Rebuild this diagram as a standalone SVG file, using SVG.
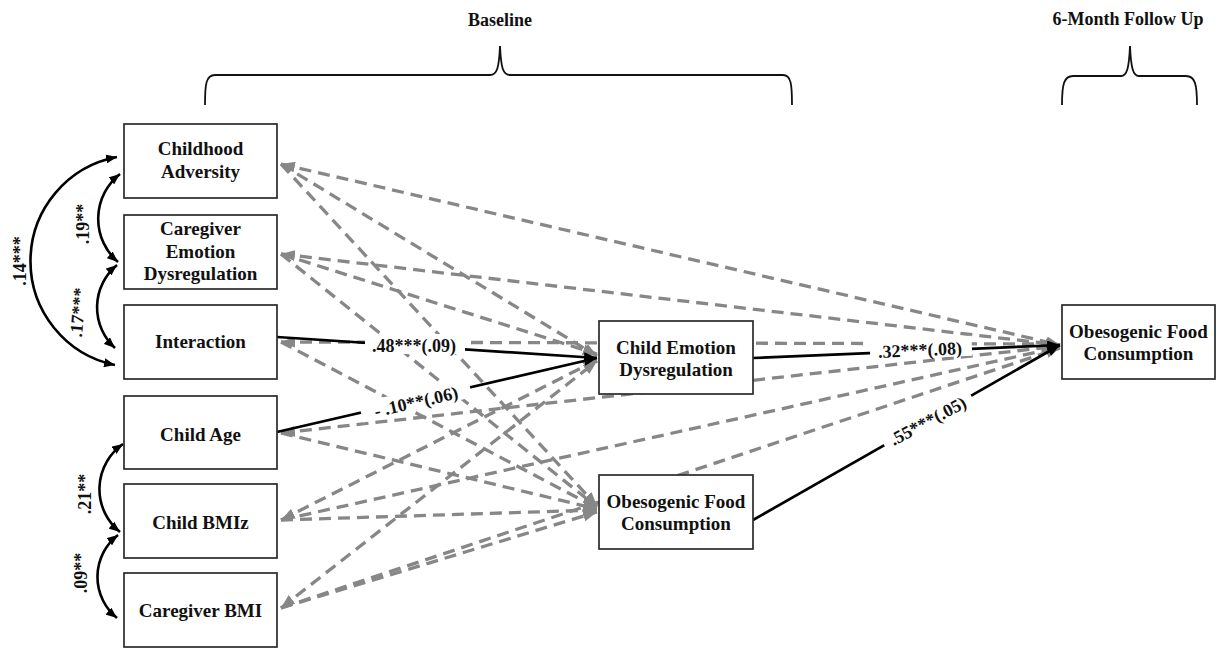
<svg xmlns="http://www.w3.org/2000/svg" width="1225" height="650" viewBox="0 0 1225 650">
<style>
text{font-family:"Liberation Serif","Times New Roman",serif;font-weight:bold;fill:#111}
.node rect{fill:#fff;stroke:#2a2a2a;stroke-width:1.7}
.node text{font-size:19px;text-anchor:middle}
.dash{fill:none;stroke:#878787;stroke-width:3.3;stroke-dasharray:12 7;marker-end:url(#ga)}
.solid{fill:none;stroke:#000;stroke-width:2.7;marker-end:url(#ab)}
.corr{fill:none;stroke:#000;stroke-width:2.6;marker-start:url(#ab2);marker-end:url(#ab2)}
.lab{font-size:18px;text-anchor:middle}
.bg{fill:#fff}
.brace{fill:none;stroke:#111;stroke-width:1.8}
.head{font-size:18px;text-anchor:middle}
</style>
<defs>
<marker id="ab" markerUnits="userSpaceOnUse" markerWidth="13" markerHeight="10" refX="13" refY="5" orient="auto-start-reverse"><path d="M0,0 L13,5 L0,10 z" fill="#000"/></marker>
<marker id="ab2" markerUnits="userSpaceOnUse" markerWidth="11" markerHeight="9" refX="11" refY="4.5" orient="auto-start-reverse"><path d="M0,0 L11,4.5 L0,9 z" fill="#000"/></marker>
<marker id="ga" markerUnits="userSpaceOnUse" markerWidth="14" markerHeight="11" refX="14" refY="5.5" orient="auto-start-reverse"><path d="M0,0 L14,5.5 L0,11 z" fill="#878787"/></marker>
</defs>

<g id="headers">
<text class="head" x="500" y="26">Baseline</text>
<path class="brace" d="M205,105 C205,84 206,75 215,75 L490,75 C497,75 499,68 500,46 C501,68 503,75 510,75 L783,75 C791,75 792,84 792,105"/>
<text class="head" x="1128" y="25">6-Month Follow Up</text>
<path class="brace" d="M1062,105 C1062,84 1064,76 1073,76 L1121,76 C1127,76 1129,68 1130,46 C1131,68 1133,76 1139,76 L1186,76 C1195,76 1197,84 1197,105"/>
</g>

<g id="connectors">
<path class="dash" style="marker-start:url(#ga)" d="M281,164 L1060,345"/>
<path class="dash" d="M281,164 L597,356"/>
<path class="dash" d="M281,164 L597,506"/>
<path class="dash" style="marker-start:url(#ga)" d="M281,254 L1060,345"/>
<path class="dash" d="M281,254 L597,354"/>
<path class="dash" d="M281,254 L597,507"/>
<path class="dash" style="marker-start:url(#ga)" d="M281,342 L1060,344"/>
<path class="dash" d="M281,342 L597,508"/>
<path class="dash" style="marker-start:url(#ga)" d="M281,433 L1060,346"/>
<path class="dash" d="M281,433 L597,509"/>
<path class="dash" style="marker-start:url(#ga)" d="M281,520 L597,360"/>
<path class="dash" d="M281,520 L1060,347"/>
<path class="dash" d="M281,520 L597,510"/>
<path class="dash" style="marker-start:url(#ga)" d="M281,608 L597,361"/>
<path class="dash" d="M281,608 L597,512"/>
<path class="dash" d="M281,608 L1060,348"/>

<path class="solid" d="M277,337 L597,358"/>
<path class="solid" d="M277,432 L597,358"/>
<path class="solid" d="M753,358 L1060,345"/>
<path class="solid" d="M753,520 L1060,345"/>

<path class="corr" d="M117,157 A106,106 0 0 0 115,365"/>
<path class="corr" d="M120,174 A57,57 0 0 0 118,262"/>
<path class="corr" d="M117,265 A55,55 0 0 0 115,348"/>
<path class="corr" d="M123,444 A55,55 0 0 0 120,532"/>
<path class="corr" d="M118,535 A53,53 0 0 0 117,618"/>
</g>

<g id="labels">
<g transform="translate(414,346)"><rect class="bg" x="-49" y="-12" width="100" height="20"/><text class="lab" x="0" y="6">.48***(.09)</text></g>
<g transform="translate(416,402) rotate(-13)"><rect class="bg" x="-56" y="-12" width="112" height="20"/><text class="lab" x="0" y="6">- .10**(.06)</text></g>
<g transform="translate(920,350) rotate(-2.5)"><rect class="bg" x="-50" y="-12" width="102" height="20"/><text class="lab" x="0" y="6">.32***(.08)</text></g>
<g transform="translate(928,421) rotate(-28)"><rect class="bg" x="-50" y="-12" width="100" height="20"/><text class="lab" x="0" y="6">.55***(.05)</text></g>
<text class="lab" transform="translate(26,261) rotate(-90)">.14***</text>
<text class="lab" transform="translate(89,224) rotate(-90)">.19**</text>
<text class="lab" transform="translate(84,313) rotate(-85)">.17***</text>
<text class="lab" transform="translate(91,494) rotate(-90)">.21**</text>
<text class="lab" transform="translate(87,573) rotate(-90)">.09**</text>
</g>

<g id="node-childhood-adversity" class="node"><rect x="124" y="124" width="153" height="74"/><text x="200.5" y="155">Childhood</text><text x="200.5" y="178">Adversity</text></g>
<g id="node-caregiver-emotion" class="node"><rect x="124" y="215" width="153" height="74"/><text x="200.5" y="235">Caregiver</text><text x="200.5" y="258">Emotion</text><text x="200.5" y="280">Dysregulation</text></g>
<g id="node-interaction" class="node"><rect x="124" y="305" width="153" height="74"/><text x="200.5" y="348">Interaction</text></g>
<g id="node-child-age" class="node"><rect x="124" y="396" width="153" height="73"/><text x="200.5" y="441">Child Age</text></g>
<g id="node-child-bmiz" class="node"><rect x="124" y="484" width="153" height="74"/><text x="200.5" y="529">Child BMIz</text></g>
<g id="node-caregiver-bmi" class="node"><rect x="124" y="573" width="153" height="74"/><text x="200.5" y="617">Caregiver BMI</text></g>
<g id="node-child-emotion" class="node"><rect x="599" y="321" width="154" height="73"/><text x="676" y="354">Child Emotion</text><text x="676" y="376">Dysregulation</text></g>
<g id="node-ofc-baseline" class="node"><rect x="599" y="475" width="154" height="74"/><text x="676" y="508">Obesogenic Food</text><text x="676" y="530">Consumption</text></g>
<g id="node-ofc-followup" class="node"><rect x="1062" y="305" width="153" height="74"/><text x="1138.5" y="338">Obesogenic Food</text><text x="1138.5" y="360">Consumption</text></g>
</svg>
